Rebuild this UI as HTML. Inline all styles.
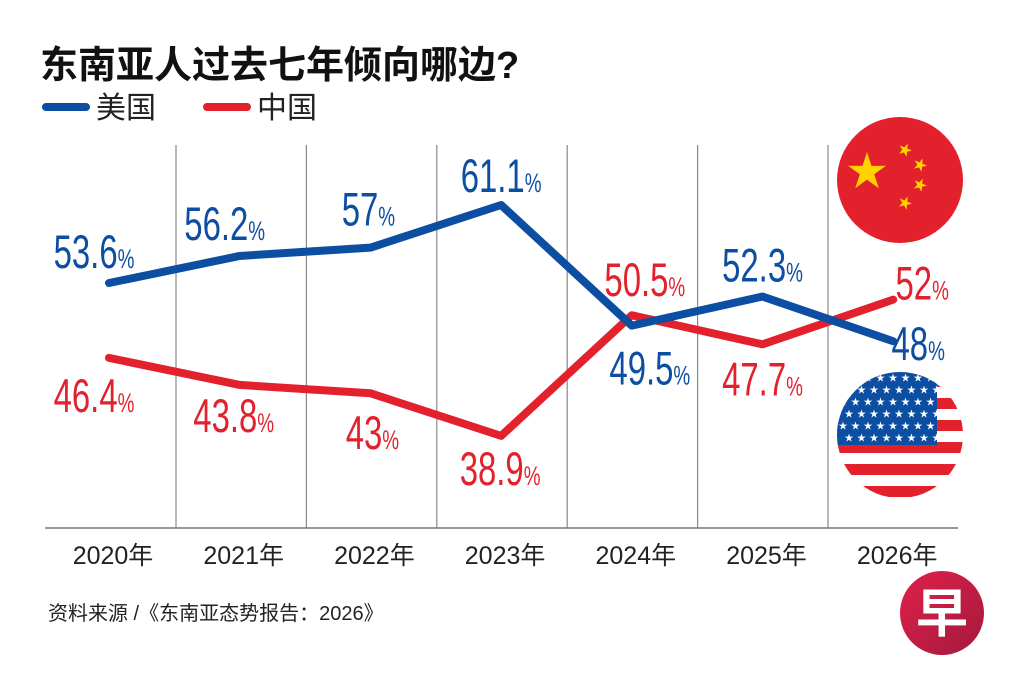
<!DOCTYPE html>
<html><head><meta charset="utf-8"><style>
html,body{margin:0;padding:0;background:#fff;width:1024px;height:682px;overflow:hidden}
svg{display:block}
.cn{font-family:"Liberation Sans","Noto Sans CJK SC",sans-serif}
</style></head><body>
<svg id="chart" width="1024" height="682" viewBox="0 0 1024 682">
<text x="40" y="78" class="cn" font-size="38" font-weight="bold" fill="#111">东南亚人过去七年倾向哪边?</text>
<g><line x1="46" y1="107" x2="86" y2="107" stroke="#0b4ea2" stroke-width="8" stroke-linecap="round"/><text x="96" y="118" class="cn" font-size="30" fill="#222">美国</text></g>
<g><line x1="207" y1="107" x2="247" y2="107" stroke="#e3212d" stroke-width="8" stroke-linecap="round"/><text x="257" y="118" class="cn" font-size="30" fill="#222">中国</text></g>
<g id="grid"></g><g id="lines"></g><g id="labels"></g><g id="xt"></g>
<g>
<circle cx="900" cy="180" r="63" fill="#e3212d"/>
<polygon id="bigstar" fill="#ffd200" points="" />
</g>
<g>
<clipPath id="uc"><circle cx="900" cy="435" r="63"/></clipPath>
<g clip-path="url(#uc)" id="usf"></g>
</g>
<text x="48" y="620" class="cn" font-size="20" fill="#222">资料来源 /《东南亚态势报告：2026》</text>
<g>
<defs><linearGradient id="lg" x1="0" y1="0" x2="1" y2="1"><stop offset="0" stop-color="#e0204a"/><stop offset="1" stop-color="#a31a3c"/></linearGradient></defs>
<circle cx="942" cy="613" r="42" fill="url(#lg)"/>
<text x="942" y="632" text-anchor="middle" class="cn" font-size="52" font-weight="bold" fill="#fff">早</text>
</g>
</svg>
<script>
const years=["2020年","2021年","2022年","2023年","2024年","2025年","2026年"];
const usValues=[53.6,56.2,57,61.1,49.5,52.3,48];
const cnValues=[46.4,43.8,43,38.9,50.5,47.7,52];
const usLabels=["53.6","56.2","57","61.1","49.5","52.3","48"];
const cnLabels=["46.4","43.8","43","38.9","50.5","47.7","52"];
const usDx=[-15,-15,-2,0,18,0,25], usDy=[-15,-16,-22,-13,59,-15,19];
const cnDx=[-15,-6,2,-1,13,0,29], cnDy=[54,47,56,49,-19,51,0];
const NS="http://www.w3.org/2000/svg";
const X=i=>109+i*130.7;
const Y=v=>205+(61.1-v)*10.4;
function mk(t,a,p){const e=document.createElementNS(NS,t);for(const k in a)e.setAttribute(k,a[k]);p.appendChild(e);return e;}
const grid=document.getElementById('grid');
for(let i=0;i<6;i++){const gx=176+i*130.4;const l=mk('line',{x1:gx,y1:145,x2:gx,y2:528,stroke:'#888','stroke-width':1.2},grid);

}
const ax=mk('line',{x1:45,y1:528,x2:958,y2:528,stroke:'#777','stroke-width':1.5},grid);


const xt=document.getElementById('xt');
years.forEach((y,i)=>{const t=mk('text',{x:X(i)+4,y:564,'text-anchor':'middle','font-size':25,fill:'#222',class:'cn'},xt);t.textContent=y;

});
const lines=document.getElementById('lines');
function series(vals,col,name){const p=mk('polyline',{points:vals.map((v,i)=>X(i)+','+Y(v)).join(' '),fill:'none',stroke:col,'stroke-width':8,'stroke-linecap':'round','stroke-linejoin':'round'},lines);

}
series(cnValues,'#e3212d','china-line');
series(usValues,'#0b4ea2','us-line');
const lab=document.getElementById('labels');
function labels(vals,txt,dx,dy,col,name){vals.forEach((v,i)=>{const cx=X(i)+dx[i],cy=Y(v)+dy[i];
const g=mk('g',{transform:`translate(${cx},${cy}) scale(0.7,1)`},lab);


const t=mk('text',{x:0,y:0,'text-anchor':'middle','font-family':'Liberation Sans, sans-serif','font-size':47,fill:col},g);
t.textContent=txt[i];const s=mk('tspan',{'font-size':27},t);s.textContent='%';});}
labels(usValues,usLabels,usDx,usDy,'#0b4ea2','us-value-label');
labels(cnValues,cnLabels,cnDx,cnDy,'#e3212d','china-value-label');
function star(cx,cy,r,rot){let p=[];for(let k=0;k<10;k++){const a=rot+k*Math.PI/5-Math.PI/2;const rr=k%2?r*0.38:r;p.push((cx+rr*Math.cos(a)).toFixed(1)+','+(cy+rr*Math.sin(a)).toFixed(1));}return p.join(' ');}
document.getElementById('bigstar').setAttribute('points',star(867,172,20,0));
const cf=document.getElementById('bigstar').parentNode;
[[905,150],[920,165],[920,185],[905,203]].forEach(s=>mk('polygon',{points:star(s[0],s[1],7,0.4),fill:'#ffd200'},cf));
const uf=document.getElementById('usf');
mk('rect',{x:830,y:370,width:140,height:130,fill:'#fff'},uf);
for(let k=0;k<7;k++)mk('rect',{x:830,y:376+k*22,width:140,height:11,fill:'#e3212d'},uf);
mk('rect',{x:830,y:370,width:107,height:75,fill:'#0b4ea2'},uf);
for(let r=0;r<6;r++)for(let c=0;c<8;c++)mk('polygon',{points:star(843+c*12.5+(r%2)*6,378+r*12,4.5,0),fill:'#fff'},uf);
</script>
</body></html>
